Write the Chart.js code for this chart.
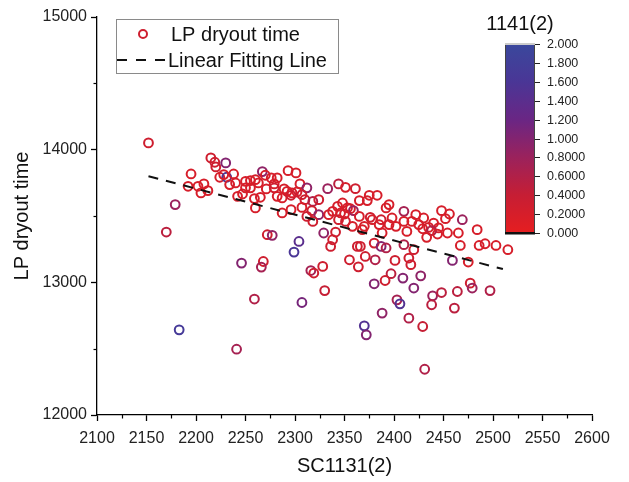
<!DOCTYPE html>
<html lang="en">
<head>
<meta charset="UTF-8">
<title>LP dryout time vs SC1131(2)</title>
<script src="https://cdn.jsdelivr.net/npm/chart.js@4.4.1/dist/chart.umd.min.js"></script>
<style>
  body { margin: 0; background: #fff; }
  #wrap { width: 629px; height: 482px; }
</style>
</head>
<body>
<div id="wrap"><canvas id="chart" width="629" height="482"></canvas></div>
<script>
// values
const sc1131 = [
  2152, 2195, 2192, 2202, 2208, 2205, 2212, 2215, 2219, 2220, 2230, 2224, 2231, 2228, 2238, 2234, 2240, 2179, 2170, 2250,
  2250, 2247, 2242, 2267, 2270, 2260, 2255, 2276, 2282, 2293, 2301, 2279, 2263, 2255, 2271, 2279, 2289, 2292, 2297, 2305,
  2312, 2302, 2282, 2287, 2296, 2307, 2310, 2318, 2324, 2333, 2344, 2351, 2259, 2265, 2260, 2287, 2296, 2307, 2317, 2312,
  2324, 2318, 2334, 2338, 2346, 2343, 2348, 2353, 2344, 2351, 2329, 2341, 2338, 2336, 2272, 2277, 2304, 2299, 2361, 2375,
  2383, 2365, 2373, 2395, 2392, 2410, 2356, 2359, 2350, 2365, 2376, 2378, 2387, 2398, 2422, 2430, 2358, 2370, 2385, 2395,
  2402, 2410, 2418, 2425, 2368, 2413, 2388, 2380, 2387, 2392, 2363, 2366, 2410, 2420, 2355, 2371, 2381, 2364, 2415, 2417,
  2397, 2448, 2456, 2452, 2469, 2440, 2429, 2435, 2445, 2438, 2444, 2433, 2454, 2465, 2484, 2467, 2486, 2492, 2503, 2515,
  2459, 2475, 2246, 2268, 2266, 2316, 2319, 2328, 2330, 2259, 2307, 2183, 2241, 2401, 2391, 2380, 2409, 2427, 2420, 2439,
  2448, 2464, 2477, 2479, 2497, 2403, 2406, 2438, 2461, 2388, 2415, 2429, 2370, 2372, 2431
];
const lpDryout = [
  14051, 13817, 13724, 13724, 13742, 13674, 13691, 13938, 13905, 13870, 13900, 13792, 13792, 13812, 13817, 13737, 13749, 13586, 13379, 13761,
  13712, 13666, 13648, 13835, 13807, 13774, 13767, 13787, 13787, 13842, 13825, 13742, 13749, 13712, 13704, 13712, 13704, 13686, 13674, 13742,
  13712, 13681, 13648, 13636, 13656, 13661, 13623, 13610, 13623, 13706, 13742, 13716, 13631, 13641, 13561, 13523, 13548, 13565, 13540, 13497,
  13510, 13459, 13510, 13535, 13523, 13573, 13598, 13561, 13472, 13459, 13372, 13379, 13321, 13271, 13359, 13354, 13308, 13228, 13706, 13656,
  13656, 13616, 13616, 13586, 13561, 13535, 13555, 13540, 13515, 13497, 13490, 13472, 13472, 13485, 13510, 13485, 13422, 13422, 13435, 13435,
  13422, 13459, 13459, 13435, 13397, 13384, 13372, 13296, 13271, 13259, 13271, 13271, 13284, 13246, 13170, 13195, 13170, 13117, 13183, 13133,
  13065, 13540, 13515, 13480, 13472, 13447, 13404, 13414, 13410, 13390, 13364, 13339, 13372, 13372, 13397, 13278, 13278, 13291, 13278, 13246,
  13165, 13153, 13145, 13157, 13115, 13089, 13070, 13120, 12938, 12874, 12848, 12642, 12496, 13165, 13014, 12989, 13032, 13049, 12957, 12898,
  12923, 12931, 12994, 12957, 12938, 12868, 12838, 12831, 12806, 12768, 12730, 12667, 12672, 12604, 12345
];
const c1141 = [
  0.3, 0.2, 0.2, 0.2, 0.2, 0.2, 0.2, 0.3, 0.3, 0.3, 1.0, 0.2, 1.6, 0.2, 0.2, 0.2, 0.2, 0.8, 0.5, 0.2,
  0.2, 0.2, 0.2, 0.9, 0.2, 0.2, 0.2, 0.2, 0.2, 0.2, 0.2, 0.2, 0.2, 0.2, 0.2, 0.3, 0.2, 0.2, 0.2, 0.2,
  0.9, 0.2, 0.2, 0.2, 0.3, 0.3, 0.3, 0.6, 0.3, 0.8, 0.5, 0.2, 0.2, 0.2, 0.2, 0.2, 0.2, 0.2, 0.3, 0.3,
  0.9, 0.3, 0.2, 0.2, 0.2, 0.2, 0.2, 0.2, 0.3, 0.3, 0.9, 0.3, 0.3, 0.3, 0.3, 0.9, 1.4, 1.6, 0.3, 0.2,
  0.2, 0.2, 0.2, 0.2, 0.2, 0.7, 0.2, 0.8, 0.2, 0.2, 0.3, 0.2, 0.3, 0.2, 0.2, 0.2, 0.2, 0.2, 0.2, 0.2,
  0.2, 0.2, 0.2, 0.2, 0.2, 0.2, 0.2, 0.3, 1.0, 0.6, 0.3, 0.3, 0.6, 0.3, 0.3, 0.3, 0.6, 0.3, 0.3, 0.3,
  0.5, 0.2, 0.2, 0.2, 0.8, 0.2, 0.2, 0.2, 0.2, 0.6, 0.2, 0.2, 0.2, 0.2, 0.2, 0.2, 0.2, 0.2, 0.2, 0.2,
  1.0, 0.2, 1.0, 0.3, 0.7, 0.7, 0.3, 0.3, 0.4, 0.6, 1.1, 1.7, 0.7, 0.3, 0.3, 1.0, 1.0, 0.9, 1.0, 0.8,
  0.5, 0.5, 0.3, 0.8, 0.6, 0.7, 1.5, 0.5, 0.5, 0.9, 0.6, 0.4, 1.5, 1.0, 0.6
];

// linear fitting line, end points
const fitX = [2152, 2510];
const fitY = [13800, 13100];

const xTicks = [2100, 2150, 2200, 2250, 2300, 2350, 2400, 2450, 2500, 2550, 2600];
const xMinor = [2125, 2175, 2225, 2275, 2325, 2375, 2425, 2475, 2525, 2575];
const yTicks = [12000, 13000, 14000, 15000];
const yMinor = [12500, 13500, 14500];
const barTicks = [0, 0.2, 0.4, 0.6, 0.8, 1.0, 1.2, 1.4, 1.6, 1.8, 2.0];
const barLabels = ['0.000', '0.2000', '0.4000', '0.6000', '0.8000', '1.000', '1.200', '1.400', '1.600', '1.800', '2.000'];

// colour map red -> purple -> blue
const cmapStops = [0, 0.4, 0.8, 1.2, 1.6, 2.0];
const cmapColors = [[230, 30, 32], [198, 30, 52], [155, 34, 92], [106, 38, 132], [74, 54, 150], [58, 72, 156]];

function cmap(v) {
  if (v <= cmapStops[0]) return 'rgb(' + cmapColors[0].join(',') + ')';
  for (let i = 1; i < cmapStops.length; i++) {
    if (v <= cmapStops[i]) {
      const t = (v - cmapStops[i - 1]) / (cmapStops[i] - cmapStops[i - 1]);
      const a = cmapColors[i - 1], b = cmapColors[i];
      const c = a.map((q, k) => Math.round(q + (b[k] - q) * t));
      return 'rgb(' + c.join(',') + ')';
    }
  }
  return 'rgb(' + cmapColors[cmapColors.length - 1].join(',') + ')';
}

const FONT = "'Liberation Sans', Arial, sans-serif";
const points = sc1131.map((x, i) => ({ x: x, y: lpDryout[i] }));
const fitLine = fitX.map((x, i) => ({ x: x, y: fitY[i] }));

const extras = {
  id: 'extras',
  afterDraw(chart) {
    const ctx = chart.ctx;
    const xs = chart.scales.x, ys = chart.scales.y;
    ctx.save();

    // minor ticks
    ctx.strokeStyle = '#000';
    ctx.lineWidth = 1.2;
    xMinor.forEach(v => {
      const p = Math.round(xs.getPixelForValue(v)) + 0.5;
      ctx.beginPath(); ctx.moveTo(p, ys.bottom); ctx.lineTo(p, ys.bottom + 3.5); ctx.stroke();
    });
    yMinor.forEach(v => {
      const p = Math.round(ys.getPixelForValue(v)) + 0.5;
      ctx.beginPath(); ctx.moveTo(xs.left, p); ctx.lineTo(xs.left - 3.5, p); ctx.stroke();
    });

    // legend box
    ctx.strokeStyle = '#8a8a8a';
    ctx.lineWidth = 1;
    ctx.strokeRect(116.5, 19.5, 222, 54);
    ctx.strokeStyle = cmap(0.3);
    ctx.lineWidth = 2;
    ctx.beginPath(); ctx.arc(143, 34, 4, 0, Math.PI * 2); ctx.stroke();
    ctx.strokeStyle = '#111';
    ctx.lineWidth = 2;
    ctx.setLineDash([10, 9]);
    ctx.beginPath(); ctx.moveTo(117, 60); ctx.lineTo(166, 60); ctx.stroke();
    ctx.setLineDash([]);
    ctx.fillStyle = '#111';
    ctx.font = '20px ' + FONT;
    ctx.textBaseline = 'middle';
    ctx.textAlign = 'left';
    ctx.fillText(chart.data.datasets[0].label, 171, 35);
    ctx.fillText(chart.data.datasets[1].label, 168, 61);

    // colour bar
    const bx = 505, bw = 30, btop = 44, bbot = 233;
    const grad = ctx.createLinearGradient(0, bbot, 0, btop);
    cmapStops.forEach((s, i) => grad.addColorStop(s / 2, 'rgb(' + cmapColors[i].join(',') + ')'));
    ctx.fillStyle = grad;
    ctx.fillRect(bx, btop, bw, bbot - btop);
    ctx.strokeStyle = '#444';
    ctx.lineWidth = 1;
    ctx.strokeRect(bx + 0.5, btop + 0.5, bw - 1, bbot - btop - 1);
    ctx.fillStyle = '#ccc';
    ctx.fillRect(bx, btop - 1, bw, 2);
    ctx.fillStyle = '#111';
    ctx.fillRect(bx, bbot - 1, bw, 2.5);
    ctx.strokeStyle = '#222';
    ctx.lineWidth = 1;
    ctx.font = '12.5px ' + FONT;
    ctx.fillStyle = '#222';
    barTicks.forEach((v, i) => {
      const py = Math.round(bbot - (v / 2) * (bbot - btop)) + 0.5;
      ctx.beginPath(); ctx.moveTo(bx + bw, py); ctx.lineTo(bx + bw + 5, py); ctx.stroke();
      ctx.fillText(barLabels[i], bx + bw + 12, py);
    });
    ctx.font = '20px ' + FONT;
    ctx.textAlign = 'center';
    ctx.fillStyle = '#111';
    ctx.fillText('1141(2)', 520, 24);

    ctx.restore();
  }
};

new Chart(document.getElementById('chart'), {
  type: 'scatter',
  data: {
    datasets: [{
      label: 'LP dryout time',
      data: points,
      pointStyle: 'circle',
      pointRadius: 4.4,
      pointBorderWidth: 2,
      backgroundColor: 'rgba(0,0,0,0)',
      borderColor: ctx => cmap(c1141[ctx.dataIndex]),
      order: 2
    }, {
      label: 'Linear Fitting Line',
      type: 'line',
      data: fitLine,
      borderColor: '#111',
      borderWidth: 2,
      borderDash: [10, 8],
      pointRadius: 0,
      fill: false,
      order: 1
    }]
  },
  options: {
    responsive: false,
    animation: false,
    layout: { padding: { left: 0, right: 37, top: 17, bottom: 0 } },
    plugins: { legend: { display: false }, tooltip: { enabled: false } },
    scales: {
      x: {
        type: 'linear',
        min: 2100,
        max: 2600,
        afterBuildTicks: s => { s.ticks = xTicks.map(v => ({ value: v })); },
        afterFit: s => { s.height = 67; },
        ticks: { font: { family: FONT, size: 16 }, color: '#222', padding: 8, maxRotation: 0, callback: v => String(v) },
        grid: { drawOnChartArea: false, tickLength: 6, tickColor: '#000', tickWidth: 1.3 },
        border: { display: true, color: '#000', width: 1.3 },
        title: { display: true, text: 'SC1131(2)', font: { family: FONT, size: 20 }, color: '#111', padding: { top: 4, bottom: 4 } }
      },
      y: {
        type: 'linear',
        min: 12000,
        max: 15000,
        afterBuildTicks: s => { s.ticks = yTicks.map(v => ({ value: v })); },
        afterFit: s => { s.width = 97; },
        ticks: { font: { family: FONT, size: 16 }, color: '#222', padding: 4, callback: v => String(v) },
        grid: { drawOnChartArea: false, tickLength: 6, tickColor: '#000', tickWidth: 1.3 },
        border: { display: true, color: '#000', width: 1.3 },
        title: { display: true, text: 'LP dryout time', font: { family: FONT, size: 20 }, color: '#111', padding: { top: 10, bottom: 4 } }
      }
    }
  },
  plugins: [extras]
});
</script>
</body>
</html>
